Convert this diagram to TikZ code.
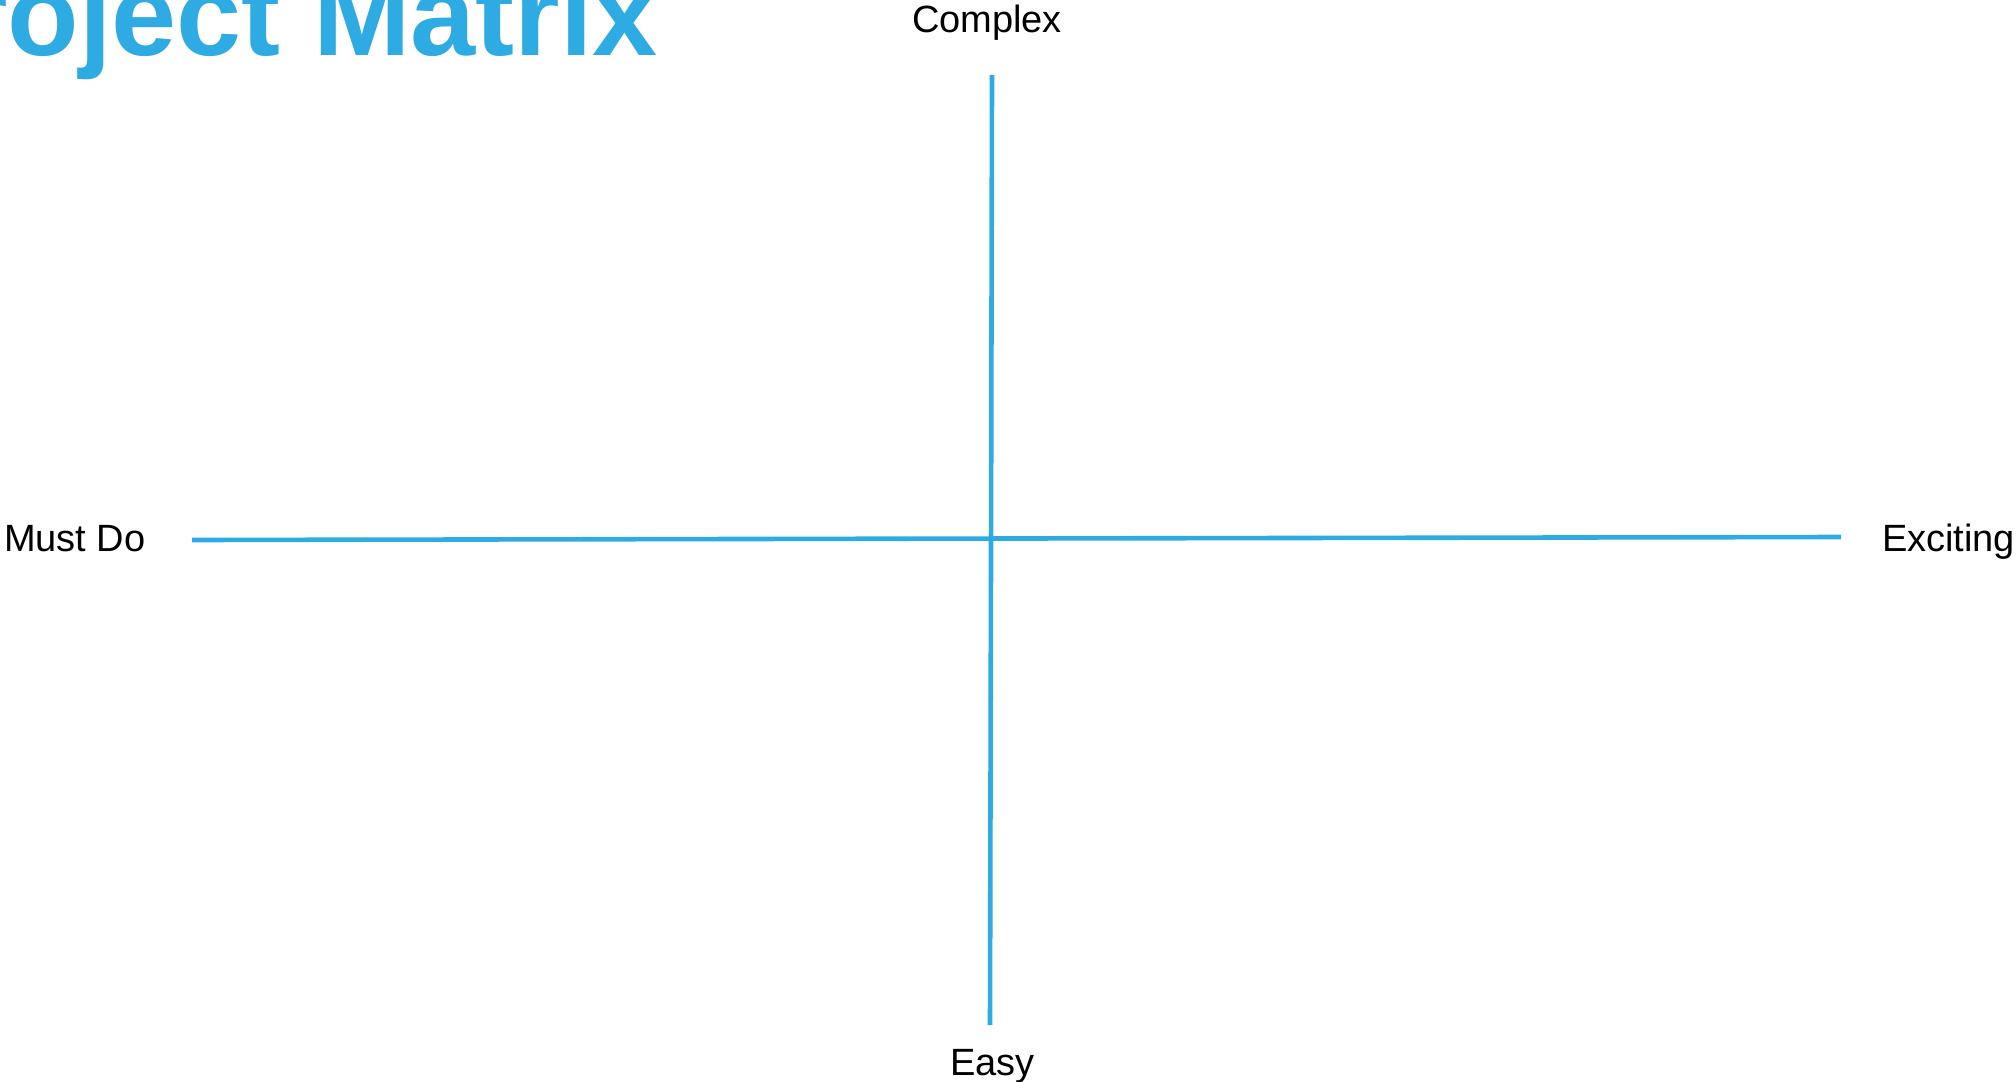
\documentclass[tikz,border=0pt]{standalone}
\usepackage{fontspec}
\setmainfont{Liberation Sans}
\definecolor{axisblue}{RGB}{45,171,226}
\begin{document}
\begin{tikzpicture}[x=0.5pt,y=-0.5pt,
  axis/.style={draw=axisblue,line width=2.3pt},
  lbl/.style={inner sep=0pt,outer sep=0pt,font=\fontsize{19}{23}\selectfont,text=black},
  ttl/.style={inner sep=0pt,outer sep=0pt,font=\fontsize{58.5}{70}\selectfont\bfseries,text=axisblue}]
\useasboundingbox (0,0) rectangle (2016,1081);
\clip (0,0) rectangle (2016,1081);
\node[ttl,anchor=base west] (title) at (-116,56) {Project Matrix};
\node[lbl,anchor=base] (complex) at (987,33) {Complex};
\node[lbl,anchor=base west] (mustdo) at (4,551) {Must Do};
\node[lbl,anchor=base west] (exciting) at (1882,551) {Exciting};
\node[lbl,anchor=base west] (easy) at (950,1075) {Easy};
\coordinate (vtop) at (992,75);
\coordinate (vbot) at (990,1025);
\coordinate (hleft) at (192,540);
\coordinate (hright) at (1841,537);
\draw[axis] (vtop) -- (vbot);
\draw[axis] (hleft) -- (hright);
\end{tikzpicture}
\end{document}
